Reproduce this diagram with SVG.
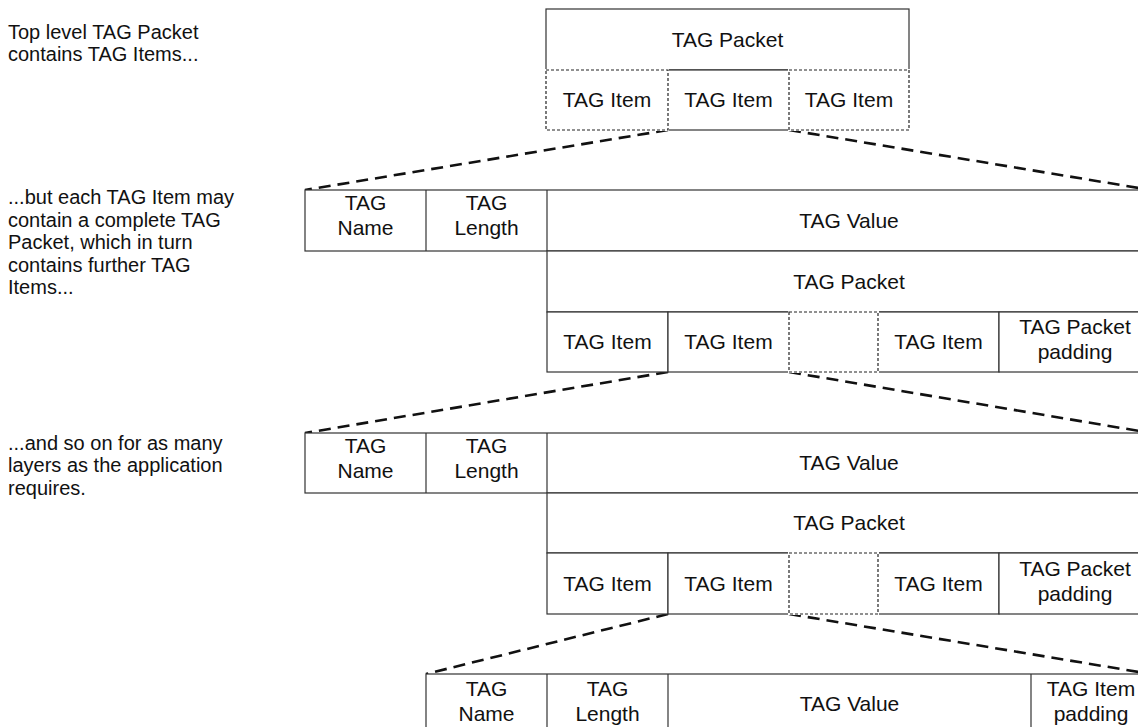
<svg xmlns="http://www.w3.org/2000/svg" width="1138" height="727" viewBox="0 0 1138 727">
<style>
  .box { fill: #ffffff; stroke: #333333; stroke-width: 1.2; }
  .ln { stroke: #333333; stroke-width: 1.2; fill: none; }
  .under { fill: #ffffff; stroke: #ffffff; stroke-width: 2; }
  .dash { fill: none; stroke: #222222; stroke-width: 1.2; stroke-dasharray: 3 2; }
  .conn { fill: none; stroke: #111111; stroke-width: 2.6; stroke-dasharray: 12 7; }
  text { font-family: "Liberation Sans", Arial, sans-serif; font-size: 21px; fill: #111111; }
  .note { font-size: 20px; }
  .c { text-anchor: middle; }
</style>
<rect width="1138" height="727" fill="#ffffff"/>

<g id="notes">
  <text class="note" x="8" y="38.5">Top level TAG Packet</text>
  <text class="note" x="8" y="61">contains TAG Items...</text>
  <text class="note" x="8" y="204">...but each TAG Item may</text>
  <text class="note" x="8" y="226.5">contain a complete TAG</text>
  <text class="note" x="8" y="249">Packet, which in turn</text>
  <text class="note" x="8" y="271.5">contains further TAG</text>
  <text class="note" x="8" y="294">Items...</text>
  <text class="note" x="8" y="449.5">...and so on for as many</text>
  <text class="note" x="8" y="472">layers as the application</text>
  <text class="note" x="8" y="494.5">requires.</text>
</g>

<g id="connectors">
  <line class="conn" x1="668" y1="130" x2="305" y2="190"/>
  <line class="conn" x1="789" y1="130" x2="1151" y2="190"/>
  <line class="conn" x1="668" y1="372" x2="305" y2="433"/>
  <line class="conn" x1="789" y1="372" x2="1151" y2="433"/>
  <line class="conn" x1="668" y1="614" x2="426" y2="674"/>
  <line class="conn" x1="789" y1="614" x2="1151" y2="674"/>
</g>

<g id="packet-top">
  <rect class="box" x="546" y="9" width="363" height="61"/>
  <rect class="box" x="668" y="70" width="121" height="60"/>
  <rect class="under" x="546" y="70" width="122" height="60"/>
  <rect class="dash" x="546" y="70" width="122" height="60"/>
  <rect class="under" x="789" y="70" width="120" height="60"/>
  <rect class="dash" x="789" y="70" width="120" height="60"/>
  <text class="c" x="727.5" y="47">TAG Packet</text>
  <text class="c" x="607" y="107">TAG Item</text>
  <text class="c" x="728.5" y="107">TAG Item</text>
  <text class="c" x="849" y="107">TAG Item</text>
</g>

<g id="item-layer2">
  <rect class="box" x="305" y="190" width="846" height="61"/>
  <line class="ln" x1="426" y1="190" x2="426" y2="251"/>
  <line class="ln" x1="547" y1="190" x2="547" y2="251"/>
  <text class="c" x="365.5" y="210">TAG</text>
  <text class="c" x="365.5" y="235">Name</text>
  <text class="c" x="486.5" y="210">TAG</text>
  <text class="c" x="486.5" y="235">Length</text>
  <text class="c" x="849" y="227.5">TAG Value</text>
</g>

<g id="packet-layer2">
  <rect class="box" x="547" y="251" width="604" height="61"/>
  <rect class="box" x="547" y="312" width="121" height="60"/>
  <rect class="box" x="668" y="312" width="121" height="60"/>
  <rect class="box" x="878" y="312" width="121" height="60"/>
  <rect class="box" x="999" y="312" width="152" height="60"/>
  <rect class="under" x="789" y="312" width="89" height="60"/>
  <rect class="dash" x="789" y="312" width="89" height="60"/>
  <text class="c" x="849" y="288.5">TAG Packet</text>
  <text class="c" x="607.5" y="349">TAG Item</text>
  <text class="c" x="728.5" y="349">TAG Item</text>
  <text class="c" x="938.5" y="349">TAG Item</text>
  <text class="c" x="1075" y="334">TAG Packet</text>
  <text class="c" x="1075" y="359">padding</text>
</g>

<g id="item-layer3">
  <rect class="box" x="305" y="433" width="846" height="60"/>
  <line class="ln" x1="426" y1="433" x2="426" y2="493"/>
  <line class="ln" x1="547" y1="433" x2="547" y2="493"/>
  <text class="c" x="365.5" y="453">TAG</text>
  <text class="c" x="365.5" y="478">Name</text>
  <text class="c" x="486.5" y="453">TAG</text>
  <text class="c" x="486.5" y="478">Length</text>
  <text class="c" x="849" y="470">TAG Value</text>
</g>

<g id="packet-layer3">
  <rect class="box" x="547" y="493" width="604" height="60"/>
  <rect class="box" x="547" y="553" width="121" height="61"/>
  <rect class="box" x="668" y="553" width="121" height="61"/>
  <rect class="box" x="878" y="553" width="121" height="61"/>
  <rect class="box" x="999" y="553" width="152" height="61"/>
  <rect class="under" x="789" y="553" width="89" height="61"/>
  <rect class="dash" x="789" y="553" width="89" height="61"/>
  <text class="c" x="849" y="530">TAG Packet</text>
  <text class="c" x="607.5" y="590.5">TAG Item</text>
  <text class="c" x="728.5" y="590.5">TAG Item</text>
  <text class="c" x="938.5" y="590.5">TAG Item</text>
  <text class="c" x="1075" y="575.5">TAG Packet</text>
  <text class="c" x="1075" y="600.5">padding</text>
</g>

<g id="item-layer4">
  <rect class="box" x="426" y="674" width="725" height="61"/>
  <line class="ln" x1="547" y1="674" x2="547" y2="735"/>
  <line class="ln" x1="668" y1="674" x2="668" y2="735"/>
  <line class="ln" x1="1031" y1="674" x2="1031" y2="735"/>
  <text class="c" x="486.5" y="696">TAG</text>
  <text class="c" x="486.5" y="721">Name</text>
  <text class="c" x="607.5" y="696">TAG</text>
  <text class="c" x="607.5" y="721">Length</text>
  <text class="c" x="849.5" y="711">TAG Value</text>
  <text class="c" x="1091" y="696">TAG Item</text>
  <text class="c" x="1091" y="721">padding</text>
</g>
</svg>
